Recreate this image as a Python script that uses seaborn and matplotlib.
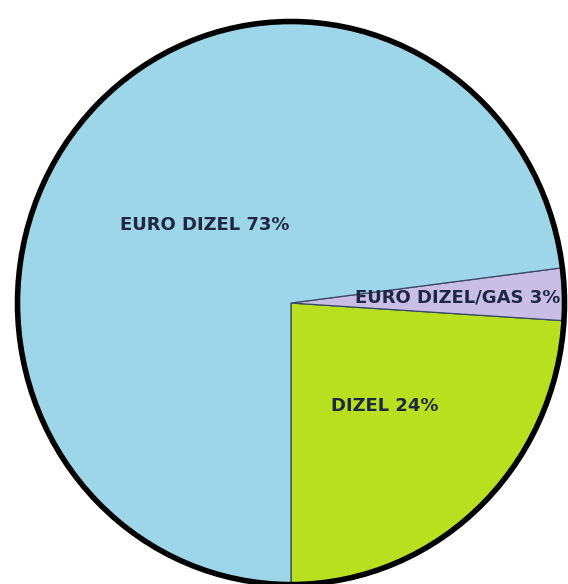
import numpy as np
import seaborn as sns
import matplotlib.pyplot as plt
import matplotlib.patches as mpatches

OUTPUT_FILE_NAME = "out.png"

# data
fuels = ["DIZEL", "EURO DIZEL/GAS", "EURO DIZEL"]
shares = [24, 3, 73]
colors = ["#b9e01f", "#c9bfe6", "#9dd6e8"]
# how far out each label sits, as a fraction of the radius
label_dist = [0.5, 0.61, 0.42]

if __name__ == "__main__":
    sns.set_theme(style="white")
    plt.rcParams["font.family"] = ["DejaVu Sans"]

    fig = plt.figure(figsize=(5.68, 5.84), dpi=100)
    ax = fig.add_axes([0, 0, 1, 1])

    wedges, _ = ax.pie(shares, colors=colors, startangle=-90, counterclock=True,
                       radius=1.0,
                       wedgeprops={"edgecolor": "#3b4766", "linewidth": 0.9})

    # thick black rim
    ax.add_patch(mpatches.Circle((0, 0), 1.0, fill=False, edgecolor="black",
                                 linewidth=4, zorder=5))

    for w, name, pct, d in zip(wedges, fuels, shares, label_dist):
        mid = np.deg2rad((w.theta1 + w.theta2) / 2)
        ax.text(d * np.cos(mid), d * np.sin(mid), f"{name} {pct}%",
                ha="center", va="center", fontsize=13, fontweight="bold",
                color="#1f2742", zorder=6)

    # the original pie is slightly taller than wide
    ax.set_aspect("auto")
    ax.set_xlim(-1.064, 1.0128)
    ax.set_ylim(-0.998, 1.0764)
    ax.axis("off")

    fig.savefig(OUTPUT_FILE_NAME, dpi=100)
